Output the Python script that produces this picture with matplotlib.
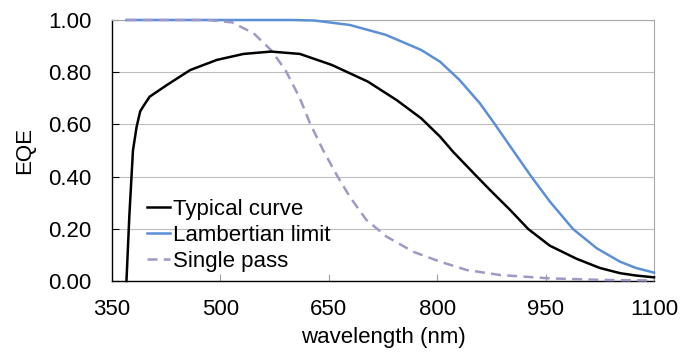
import matplotlib
matplotlib.use("Agg")
import matplotlib.pyplot as plt
from matplotlib.ticker import FormatStrFormatter

plt.rcParams['font.family'] = ['Liberation Sans', 'DejaVu Sans']

# Typical curve
typ_nm = [370, 374, 379, 384, 389, 393, 402, 426, 458, 495, 532, 570, 610, 654, 704,
          744, 778, 804, 822, 855, 873, 901, 926, 956, 993, 1025, 1053, 1075, 1100]
typ_eqe = [0.00, 0.25, 0.50, 0.59, 0.65, 0.668, 0.706, 0.751, 0.808, 0.847, 0.870, 0.879,
           0.870, 0.828, 0.764, 0.693, 0.623, 0.553, 0.495, 0.400, 0.349, 0.272, 0.199,
           0.135, 0.085, 0.050, 0.030, 0.021, 0.014]

# Lambertian limit
lam_nm = [370, 600, 630, 679, 729, 778, 804, 831, 859, 880, 905, 931, 956, 988, 1021,
          1053, 1075, 1100]
lam_eqe = [1.0, 1.0, 0.998, 0.981, 0.943, 0.885, 0.840, 0.770, 0.681, 0.600, 0.500, 0.397,
           0.304, 0.199, 0.125, 0.074, 0.050, 0.032]

# Single pass
sp_nm = [370, 482, 516, 546, 570, 590, 610, 624, 642, 661, 679, 702, 730, 767, 804, 841,
         887, 956, 1030, 1100]
sp_eqe = [1.0, 1.0, 0.991, 0.949, 0.885, 0.808, 0.700, 0.604, 0.502, 0.406, 0.323, 0.234,
          0.170, 0.112, 0.074, 0.042, 0.023, 0.010, 0.004, 0.002]

x_ticks = [350, 500, 650, 800, 950, 1100]
y_ticks = [0.0, 0.2, 0.4, 0.6, 0.8, 1.0]

FS = 16

fig = plt.figure(figsize=(6.83, 3.54), dpi=100)
ax = fig.add_axes([112/683, (354-281)/354, (654-112)/683, (281-20)/354])

for y in y_ticks:
    ax.axhline(y, color='#BDBDBD', lw=0.8, zorder=0)

l_lam, = ax.plot(lam_nm, lam_eqe, color='#5B8FD6', lw=1.8, clip_on=False, zorder=3,
                 label='Lambertian limit')
l_sp, = ax.plot(sp_nm, sp_eqe, color='#A298C6', lw=1.8, ls=(0, (4, 2.5)), clip_on=False,
                zorder=4, label='Single pass')
l_typ, = ax.plot(typ_nm, typ_eqe, color='black', lw=1.8, clip_on=False, zorder=5,
                 label='Typical curve')

ax.set_xlim(350, 1100)
ax.set_ylim(0, 1.0)
ax.set_xticks(x_ticks)
ax.set_yticks(y_ticks)
ax.yaxis.set_major_formatter(FormatStrFormatter('%.2f'))
ax.tick_params(axis='both', direction='in', length=5, labelsize=FS, width=0.8)
ax.tick_params(axis='x', pad=13, color='#A0A0A0')
ax.tick_params(axis='y', pad=15)

for s in ['top', 'right']:
    ax.spines[s].set_color('#A6A6A6')
    ax.spines[s].set_linewidth(0.8)
for s in ['left', 'bottom']:
    ax.spines[s].set_color('black')
    ax.spines[s].set_linewidth(1.0)

ax.set_xlabel('wavelength (nm)', fontsize=FS, labelpad=5)
ax.set_ylabel('EQE', fontsize=FS, labelpad=9)

ax.legend(handles=[l_typ, l_lam, l_sp], loc='upper left', bbox_to_anchor=(0.0646, 0.315),
          frameon=False, fontsize=FS, handlelength=1.04, handletextpad=0.14,
          labelspacing=0.23, borderaxespad=0, borderpad=0)

fig.savefig('out.png', dpi=100)
